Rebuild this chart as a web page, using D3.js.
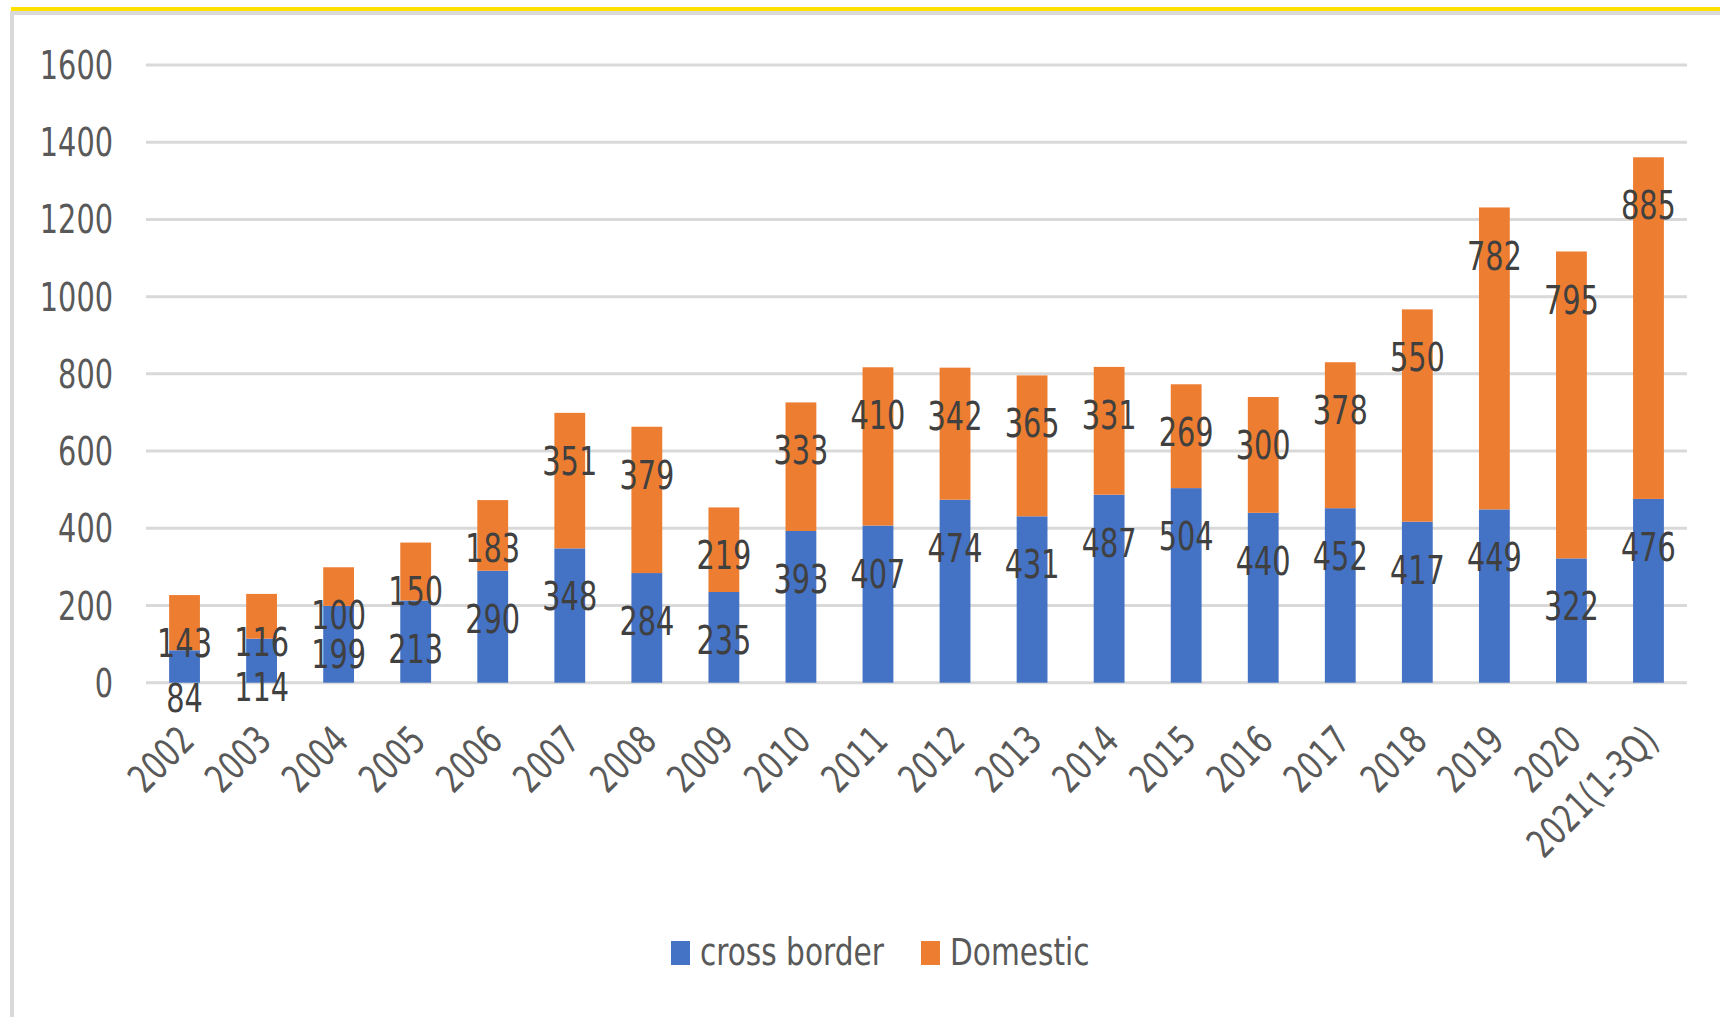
<html>
<head>
<script src="https://cdn.jsdelivr.net/npm/d3@7"></script>
<style>
  body { margin: 0; background: #fff; }
  text { font-family: "DejaVu Sans Condensed", "DejaVu Sans", sans-serif; }
</style>
</head>
<body>
<svg id="chart" width="1720" height="1017"></svg>
<script>
const years = ["2002","2003","2004","2005","2006","2007","2008","2009","2010","2011",
               "2012","2013","2014","2015","2016","2017","2018","2019","2020","2021(1-3Q)"];
const crossBorder = [84,114,199,213,290,348,284,235,393,407,474,431,487,504,440,452,417,449,322,476];
const domestic    = [143,116,100,150,183,351,379,219,333,410,342,365,331,269,300,378,550,782,795,885];
const yTicks = [0,200,400,600,800,1000,1200,1400,1600];
const seriesNames = ["cross border", "Domestic"];
const colors = ["#4472C4", "#ED7D31"];

const svg = d3.select("#chart");
var sx = 0.82;   // squeeze text horizontally, the source font is narrow

// frame: yellow top line, grey border
svg.append("rect").attr("x", 12).attr("y", 13).attr("width", 1720).attr("height", 1017)
   .attr("fill", "none").attr("stroke", "#d9d9d9").attr("stroke-width", 4);
svg.append("rect").attr("x", 11).attr("y", 7).attr("width", 1709).attr("height", 4)
   .attr("fill", "#FFE100");

var left = 146, right = 1687;
var x = d3.scaleBand().domain(years).range([left, right]).paddingInner(0.6).paddingOuter(0.3);
var y = d3.scaleLinear().domain([0, 1600]).range([682.7, 65]);

// gridlines
svg.append("g").selectAll("line")
   .data(yTicks).enter().append("line")
   .attr("x1", left).attr("x2", right)
   .attr("y1", d => y(d)).attr("y2", d => y(d))
   .attr("stroke", "#d9d9d9").attr("stroke-width", 3);

// y labels
svg.append("g").selectAll("text")
   .data(yTicks).enter().append("text")
   .text(d => d)
   .attr("transform", d => "translate(113," + y(d) + ") scale(" + sx + ",1)")
   .attr("dy", "0.36em")
   .attr("text-anchor", "end")
   .attr("fill", "#595959").style("font-size", "39px");

const table = years.map((yr, i) => ({year: yr, cb: crossBorder[i], dom: domestic[i]}));
const stacked = d3.stack().keys(["cb", "dom"])(table);

svg.append("g").selectAll("g")
   .data(stacked).enter().append("g")
   .attr("fill", (d, i) => colors[i])
   .selectAll("rect")
   .data(d => d).enter().append("rect")
   .attr("x", d => x(d.data.year))
   .attr("width", x.bandwidth())
   .attr("y", d => y(d[1]))
   .attr("height", d => y(d[0]) - y(d[1]));

// data labels, placed a bit below the top of each segment
svg.append("g").selectAll("g")
   .data(stacked).enter().append("g")
   .selectAll("text")
   .data(d => d).enter().append("text")
   .text(d => d[1] - d[0])
   .attr("transform", d => "translate(" + (x(d.data.year) + x.bandwidth() / 2) + "," + (y(d[1]) + 48) + ") scale(" + sx + ",1)")
   .attr("dy", "0.36em")
   .attr("text-anchor", "middle")
   .attr("fill", "#404040").style("font-size", "39px");

// x labels
svg.append("g").selectAll("text")
   .data(years).enter().append("text")
   .text(d => d)
   .attr("text-anchor", "end")
   .attr("dy", "0.36em")
   .attr("transform", d => "translate(" + (x(d) + x.bandwidth() / 2 + 2) + ",733) rotate(-45) scale(" + sx + ",1)")
   .attr("fill", "#595959").style("font-size", "39px");

// legend
var legend = svg.append("g");
var legX = [671, 921];
legend.selectAll("rect")
   .data(seriesNames).enter().append("rect")
   .attr("x", (d, i) => legX[i]).attr("y", 941)
   .attr("width", 19).attr("height", 24)
   .attr("fill", (d, i) => colors[i]);
legend.selectAll("text")
   .data(seriesNames).enter().append("text")
   .text(d => d)
   .attr("transform", (d, i) => "translate(" + (legX[i] + 29) + ",965) scale(0.89,1)")
   .attr("fill", "#595959").style("font-size", "37px");
</script>
</body>
</html>
